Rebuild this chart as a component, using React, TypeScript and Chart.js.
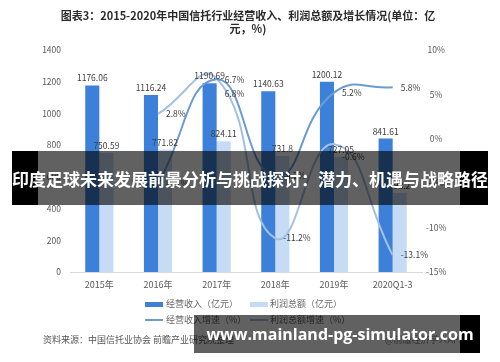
import React, { useEffect, useRef } from 'react';
import { Chart, registerables } from 'chart.js';

Chart.register(...registerables);

const categories = ['2015年', '2016年', '2017年', '2018年', '2019年', '2020Q1-3'];
const revenue = [1176.06, 1116.24, 1190.69, 1140.63, 1200.12, 841.61];
const profit = [750.59, 771.82, 824.11, 731.8, 727.05, 498.2];
const revenueGrowth = [null, -5.1, 6.7, -4.2, 5.2, 5.8];
const profitGrowth = [null, 2.8, 6.8, -11.2, -0.6, -13.1];

const leftMin = 0;
const leftMax = 1400;
const leftStep = 200;
const rightMin = -15;
const rightMax = 10;
const rightStep = 5;

const titleLine1 = '图表3：2015-2020年中国信托行业经营收入、利润总额及增长情况(单位：亿';
const titleLine2 = '元，%)';
const legendLabels = ['经营收入（亿元）', '利润总额（亿元）', '经营收入增速（%）', '利润总额增速（%）'];
const sourceText = '资料来源：中国信托业协会 前瞻产业研究院整理';
const appText = '@前瞻经济学人APP';
const bannerText = '印度足球未来发展前景分析与挑战探讨：潜力、机遇与战略路径';
const urlText = 'www.mainland-pg-simulator.com';

const CJK = '"Noto Sans CJK SC", "Noto Sans", sans-serif';
const C_REV = '#3d80d9';
const C_PROF = '#c6dcf5';
const C_REVG = '#6c9bd4';
const C_PROFG = '#a3c0e4';

const labelPlugin = {
  id: 'valueLabels',
  afterDatasetsDraw(chart: any) {
    const ctx = chart.ctx;
    ctx.save();
    ctx.font = '8.5px ' + CJK;
    ctx.fillStyle = '#404040';
    chart.data.datasets.forEach((ds: any, i: number) => {
      const meta = chart.getDatasetMeta(i);
      meta.data.forEach((el: any, j: number) => {
        const v = ds.data[j];
        if (v === null || v === undefined) return;
        if (ds.type === 'bar') {
          ctx.textAlign = 'center';
          ctx.textBaseline = 'bottom';
          ctx.fillText(String(v), el.x, el.y - 3);
        } else {
          ctx.textAlign = 'left';
          ctx.textBaseline = 'middle';
          let dy = 0;
          if (ds.key === 'pg' && j === 2) dy = 15;
          if (ds.key === 'pg' && j === 4) dy = 13;
          ctx.fillText(v.toFixed(1) + '%', el.x + 8, el.y + dy);
        }
      });
    });
    ctx.restore();
  },
};

function ChartCanvas() {
  const ref = useRef<HTMLCanvasElement | null>(null);
  useEffect(() => {
    if (!ref.current) return;
    const chart = new Chart(ref.current, {
      data: {
        labels: categories,
        datasets: [
          { type: 'line', key: 'rg', label: legendLabels[2], data: revenueGrowth, yAxisID: 'y1', borderColor: C_REVG, borderWidth: 2, pointRadius: 0, tension: 0.5, order: 0 } as any,
          { type: 'line', key: 'pg', label: legendLabels[3], data: profitGrowth, yAxisID: 'y1', borderColor: C_PROFG, borderWidth: 2, pointRadius: 0, tension: 0.5, order: 0 } as any,
          { type: 'bar', label: legendLabels[0], data: revenue, yAxisID: 'y', backgroundColor: C_REV, categoryPercentage: 0.48, barPercentage: 1, order: 1 } as any,
          { type: 'bar', label: legendLabels[1], data: profit, yAxisID: 'y', backgroundColor: C_PROF, categoryPercentage: 0.48, barPercentage: 1, order: 1 } as any,
        ],
      },
      options: {
        responsive: false,
        animation: false,
        devicePixelRatio: 1,
        layout: { padding: { left: 0, right: 48, top: 50, bottom: 70 } },
        plugins: { legend: { display: false }, tooltip: { enabled: false }, title: { display: false } },
        scales: {
          x: {
            grid: { display: false, drawTicks: false },
            border: { display: true, color: '#d9d9d9', width: 1 },
            ticks: { color: '#595959', font: { size: 9, family: CJK }, padding: 7, maxRotation: 0 },
            afterFit: (s: any) => { s.height = 20; },
          },
          y: {
            position: 'left',
            min: leftMin,
            max: leftMax,
            grid: { display: false, drawTicks: false },
            border: { display: false },
            ticks: { stepSize: leftStep, color: '#595959', font: { size: 8.5, family: CJK }, padding: 9, callback: (v: any) => String(v) },
            afterFit: (s: any) => { s.width = 70; },
          },
          y1: {
            position: 'right',
            min: rightMin,
            max: rightMax,
            grid: { display: false, drawTicks: false },
            border: { display: false },
            ticks: { stepSize: rightStep, color: '#595959', font: { size: 8.5, family: CJK }, padding: 4, crossAlign: 'center', callback: (v: any) => v + '%' },
            afterFit: (s: any) => { s.width = 30; },
          },
        },
      } as any,
      plugins: [labelPlugin],
    });
    return () => chart.destroy();
  }, []);
  return <canvas ref={ref} width={500} height={362} style={{ position: 'absolute', left: 0, top: 0, width: 500, height: 362 }} />;
}

const abs = (o: any) => ({ position: 'absolute' as const, ...o });

export default function App() {
  const legText = { fontFamily: CJK, fontSize: 9, color: '#666', lineHeight: '12px', whiteSpace: 'nowrap' as const };
  return (
    <div style={{ position: 'fixed', left: 0, top: 0, width: 500, height: 362, background: '#fff', overflow: 'hidden' }}>
      <ChartCanvas />
      <div style={abs({ left: 0, top: 9, width: 496, textAlign: 'center', fontFamily: CJK, fontWeight: 700, fontSize: 11, lineHeight: '13px', color: '#2b2b2b', whiteSpace: 'nowrap' })}>{titleLine1}</div>
      <div style={abs({ left: 0, top: 22, width: 496, textAlign: 'center', fontFamily: CJK, fontWeight: 700, fontSize: 11, lineHeight: '13px', color: '#2b2b2b' })}>{titleLine2}</div>

      <div style={abs({ left: 145, top: 302, width: 18, height: 5, background: C_REV })} />
      <div style={abs({ left: 166, top: 298, ...legText })}>{legendLabels[0]}</div>
      <div style={abs({ left: 250, top: 302, width: 18, height: 5, background: C_PROF })} />
      <div style={abs({ left: 270, top: 298, ...legText })}>{legendLabels[1]}</div>
      <div style={abs({ left: 145, top: 319, width: 18, height: 2, background: C_REVG })} />
      <div style={abs({ left: 166, top: 314, ...legText })}>{legendLabels[2]}</div>
      <div style={abs({ left: 250, top: 319, width: 18, height: 2, background: C_PROFG })} />
      <div style={abs({ left: 270, top: 314, ...legText })}>{legendLabels[3]}</div>

      <div style={abs({ left: 43, top: 334, ...legText, color: '#555' })}>{sourceText}</div>
      <div style={abs({ left: 385, top: 334, ...legText, color: '#888' })}>{appText}</div>

      <div style={abs({ left: 12, top: 151, width: 26, height: 54, background: '#000' })} />
      <div style={abs({ left: 38, top: 151, width: 422, height: 54, background: 'rgba(0,0,0,0.62)' })} />
      <div style={abs({ left: 460, top: 151, width: 28, height: 54, background: '#000' })} />
      <div style={abs({ left: 12, top: 151, width: 476, height: 54, display: 'flex', alignItems: 'center', justifyContent: 'center', color: '#fff', fontFamily: CJK, fontWeight: 700, fontSize: 17, whiteSpace: 'nowrap' })}>{bannerText}</div>

      <div style={abs({ left: 194, top: 315, width: 266, height: 38, background: 'rgba(0,0,0,0.62)' })} />
      <div style={abs({ left: 460, top: 315, width: 20, height: 38, background: '#000' })} />
      <div style={abs({ left: 205, top: 315, width: 270, height: 38, display: 'flex', alignItems: 'center', justifyContent: 'center', color: '#fff', fontFamily: '"Open Sans", sans-serif', fontWeight: 700, fontSize: 16, whiteSpace: 'nowrap' })}>{urlText}</div>
    </div>
  );
}
